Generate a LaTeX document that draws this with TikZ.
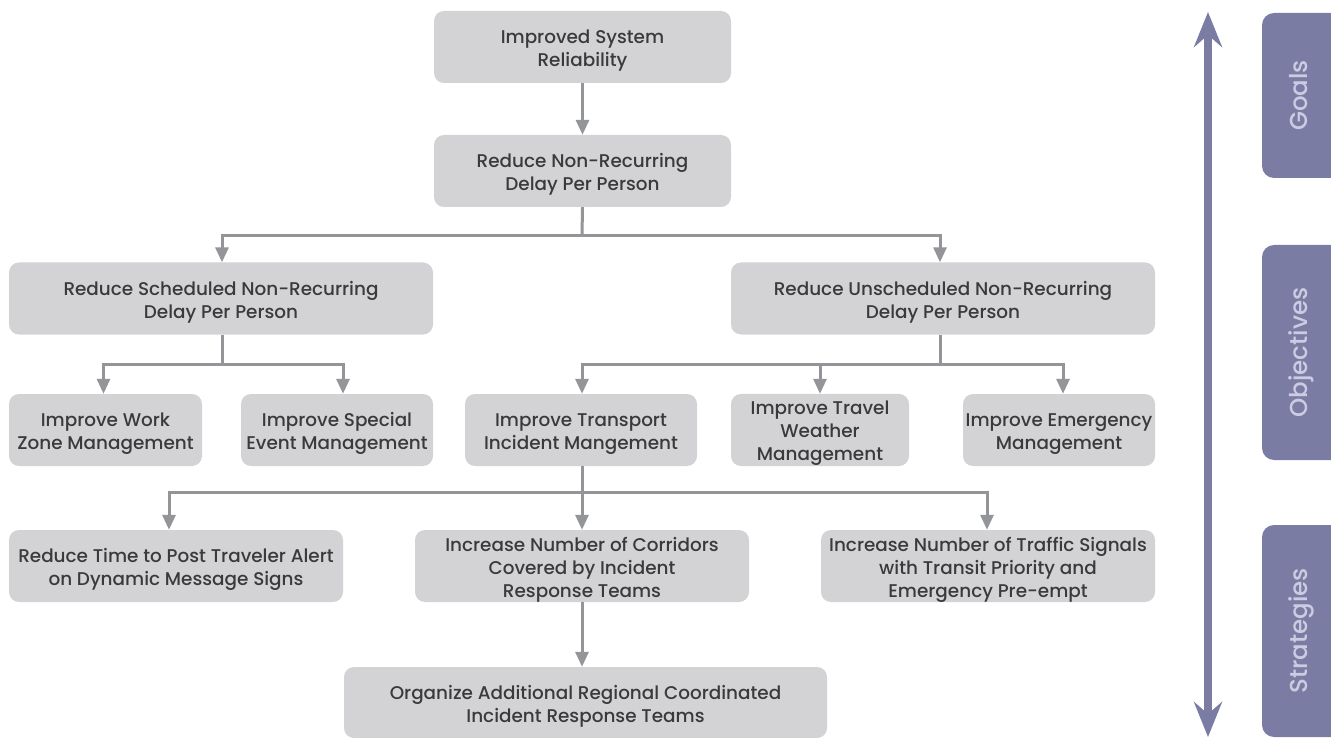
\documentclass[tikz,border=0pt]{standalone}
\usepackage{fontspec}
\setmainfont{Poppins}[UprightFont={* Medium}]
\usetikzlibrary{arrows.meta}
\definecolor{boxfill}{HTML}{D3D3D5}
\definecolor{boxtext}{HTML}{3A3A3C}
\definecolor{linkgray}{HTML}{939598}
\definecolor{tabfill}{HTML}{7B7CA3}
\definecolor{tabtext}{HTML}{CBCBE2}
% extra height on the first line pushes each text block slightly down
\newcommand\toppad{\rule{0pt}{21pt}}
\tikzset{
  box/.style={fill=boxfill, rounded corners=10pt, align=center, text=boxtext,
    font=\fontsize{18.4}{23}\selectfont, inner sep=0pt, minimum height=72pt},
  conn/.style={draw=linkgray, line width=3pt},
  arr/.style={conn, -{Triangle[width=13pt,length=15pt]}},
  tab/.style={fill=tabfill, rounded corners=12pt},
  tablabel/.style={text=tabtext, rotate=90, anchor=base, font=\fontsize{24.5}{30}\selectfont},
  axis/.style={draw=tabfill, line width=8pt,
    {Stealth[width=28pt,length=35pt,inset=12pt]}-{Stealth[width=28pt,length=35pt,inset=12pt]}}
}
\begin{document}
\begin{tikzpicture}[x=1pt, y=-1pt]
\useasboundingbox (0,0) rectangle (1331,738);
\fill[white] (0,0) rectangle (1331,738);

% goals / objectives / strategies tabs
\fill[tab] (1262,13) rectangle (1350,178);
\fill[tab] (1262,245) rectangle (1350,460);
\fill[tab] (1262,525) rectangle (1350,737);
\node[tablabel] (tgoals) at (1307,95.5) {Goals};
\node[tablabel] (tobj) at (1307,352.5) {Objectives};
\node[tablabel] (tstrat) at (1307,631) {Strategies};

% direction axis
\coordinate (axtop) at (1208,12);
\coordinate (axbot) at (1208,737);
\draw[axis] (axbot) -- (axtop);

% boxes
\node[box, minimum width=297pt] (b1) at (582.5,47) {\toppad Improved System\\Reliability};
\node[box, minimum width=297pt] (b2) at (582.5,171) {\toppad Reduce Non-Recurring\\Delay Per Person};
\node[box, minimum width=424pt] (b3) at (221,298.5) {\toppad Reduce Scheduled Non-Recurring\\Delay Per Person};
\node[box, minimum width=424pt] (b4) at (943,298.5) {\toppad Reduce Unscheduled Non-Recurring\\Delay Per Person};
\node[box, minimum width=193pt] (b5) at (105.5,430) {\toppad Improve Work\\Zone Management};
\node[box, minimum width=192pt] (b6) at (337,430) {\toppad Improve Special\\Event Management};
\node[box, minimum width=232pt] (b7) at (581,430) {\toppad Improve Transport\\Incident Mangement};
\node[box, minimum width=178pt] (b8) at (820,430) {\toppad Improve Travel\\Weather\\Management};
\node[box, minimum width=192pt] (b9) at (1059,430) {\toppad Improve Emergency\\Management};
\node[box, minimum width=334pt] (b10) at (176,566) {\toppad Reduce Time to Post Traveler Alert\\on Dynamic Message Signs};
\node[box, minimum width=334pt] (b11) at (582,566) {\toppad Increase Number of Corridors\\Covered by Incident\\Response Teams};
\node[box, minimum width=334pt] (b12) at (988,566) {\toppad Increase Number of Traffic Signals\\with Transit Priority and\\Emergency Pre-empt};
\node[box, minimum width=483pt, minimum height=71pt] (b13) at (585.5,702.5) {\toppad Organize Additional Regional Coordinated\\Incident Response Teams};

% junction points of the connector buses
\coordinate (j2) at (582,236);
\coordinate (j3) at (222,364);
\coordinate (j4) at (940,364);
\coordinate (j7) at (582,492);

% connectors
\draw[arr] (b1) -- (b2);
\draw[conn] (b2.south) -- (j2);
\draw[arr] (j2) -| ([xshift=1pt]b3.north);
\draw[arr] (j2) -| ([xshift=-3pt]b4.north);

\draw[conn] ([xshift=1pt]b3.south) -- (j3);
\draw[arr] (j3) -| ([xshift=-2pt]b5.north);
\draw[arr] (j3) -| ([xshift=6pt]b6.north);

\draw[conn] ([xshift=-3pt]b4.south) -- (j4);
\draw[arr] (j4) -| ([xshift=1pt]b7.north);
\draw[arr] (j4) -| (b8.north);
\draw[arr] (j4) -| ([xshift=4pt]b9.north);

\draw[conn] ([xshift=1pt]b7.south) -- (j7);
\draw[arr] (j7) -| ([xshift=-7pt]b10.north);
\draw[arr] (j7) -- (b11.north);
\draw[arr] (j7) -| ([xshift=-1pt]b12.north);

\draw[arr] (b11.south) -- ([xshift=-3.5pt]b13.north);
\end{tikzpicture}
\end{document}
